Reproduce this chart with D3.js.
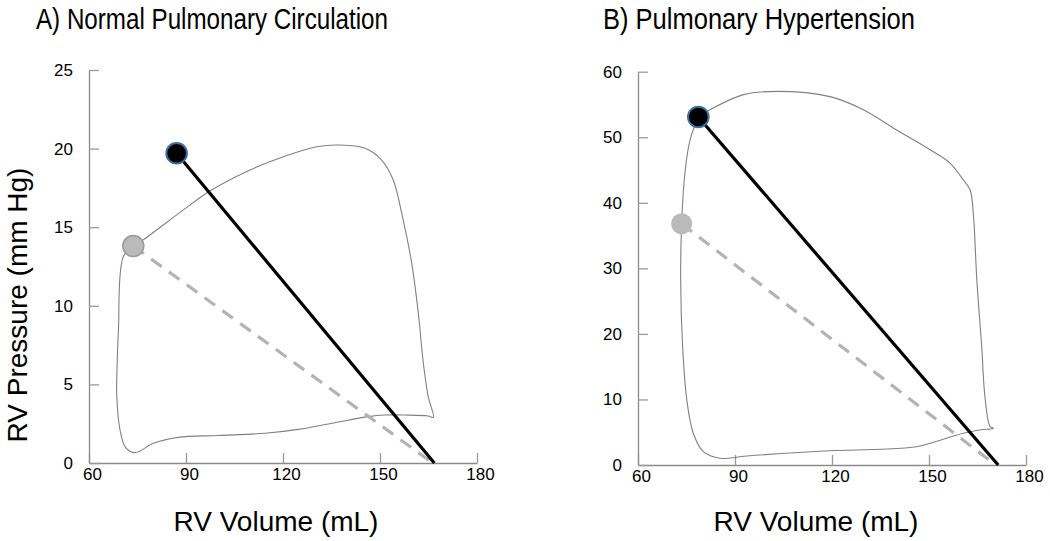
<!DOCTYPE html>
<html>
<head>
<meta charset="utf-8">
<script src="https://cdn.jsdelivr.net/npm/d3@7"></script>
<style>
  html, body { margin: 0; padding: 0; background: #fff; }
  svg { display: block; }
  text { font-family: "Liberation Sans", Arial, Helvetica, sans-serif; fill: #000; }
</style>
</head>
<body>
<svg id="chart" width="1050" height="541"></svg>
<script>
// ---------------- DATA ----------------
const titles = ["A) Normal Pulmonary Circulation", "B) Pulmonary Hypertension"];
const xLabel = "RV Volume (mL)";
const yLabel = "RV Pressure (mm Hg)";

const xTicks = [60, 90, 120, 150, 180];
const yTicksA = [0, 5, 10, 15, 20, 25];
const yTicksB = [0, 10, 20, 30, 40, 50, 60];

// Panel A pressure-volume loop (traced)
const loopAVolume = [73.7, 76.8, 89.2, 97.4, 109.8, 120.1, 130.4, 137.6, 145.4, 150.5, 154.1, 156.7, 159.8, 161.85, 163.4, 164.9, 166.5,
                     164.9, 157.7, 151.5, 146.4, 135.1, 124.7, 114.4, 100, 87.6, 79.9, 74.2, 71.3, 69.6, 68.6, 68.7, 69.1, 70.6, 73.7];
const loopAPressure = [13.8, 14.2, 16.1, 17.3, 18.64, 19.48, 20.12, 20.23, 20.02, 19.27, 18.0, 15.9, 12.72, 9.54, 6.36, 4.22, 2.9,
                       2.99, 3.05, 3.05, 2.95, 2.53, 2.14, 1.89, 1.75, 1.63, 1.25, 0.66, 1.0, 2.1, 4.22, 6.3, 8.46, 13.12, 13.8];

// Panel B pressure-volume loop (traced)
const loopBVolume = [78.65, 82.3, 92.6, 102.9, 119.4, 129.7, 140.0, 150.3, 156.5, 160.6, 162.7, 163.7, 164.8, 166.3, 167.3, 168.9,
                     169.9, 165.8, 160.6, 150.3, 146.2, 134.85, 119.4, 93.6, 85.4, 80.2, 77.1, 75.1, 73.8, 73.2, 73.5, 74.5, 76.1, 78.65];
const loopBPressure = [53.08, 54.2, 56.5, 57.0, 56.2, 54.2, 51.1, 48.1, 46.06, 43.5, 42.0, 38.4, 28.2, 18.06, 10.43, 5.85,
                       5.6, 5.34, 4.84, 3.31, 2.79, 2.4, 2.18, 1.37, 1.02, 2.03, 4.84, 9.92, 18.06, 28.2, 36.8, 44.5, 49.6, 53.08];

// Elastance lines: [volume, pressure] of the point and the x-intercept
const esA = { point: [87.1, 19.7], v0: [166.8, 0] };   // black, solid
const edA = { point: [73.7, 13.8], v0: [166.3, 0] };   // gray, dashed
const esB = { point: [78.65, 53.1], v0: [171.4, 0] };
const edB = { point: [73.5, 36.8], v0: [170.6, 0] };

// ---------------- LAYOUT ----------------
const svg = d3.select("#chart");

const panels = [
  { title: titles[0], titleX: 36, titleW: 352, xRange: [89, 477], yRange: [463, 70], yDomain: [0, 25], yTicks: yTicksA,
    vol: loopAVolume, pres: loopAPressure, es: esA, ed: edA, xTitleX: 276, showY: true, grayStroke: "#9a9a9a" },
  { title: titles[1], titleX: 603, titleW: 312, xRange: [638, 1026], yRange: [465, 71.7], yDomain: [0, 60], yTicks: yTicksB,
    vol: loopBVolume, pres: loopBPressure, es: esB, ed: edB, xTitleX: 816, showY: false, grayStroke: "none" }
];

panels.forEach(p => {
  const x = d3.scaleLinear().domain([60, 180]).range(p.xRange);
  const y = d3.scaleLinear().domain(p.yDomain).range(p.yRange);
  const g = svg.append("g");

  // Axes
  const xAxis = d3.axisBottom(x).tickValues(xTicks).tickSizeInner(-10).tickSizeOuter(0).tickPadding(5);
  const yAxis = d3.axisLeft(y).tickValues(p.yTicks).tickSizeInner(-10).tickSizeOuter(0).tickPadding(16);

  const gx = g.append("g").attr("transform", `translate(0,${p.yRange[0]})`).call(xAxis);
  const gy = g.append("g").attr("transform", `translate(${p.xRange[0]},0)`).call(yAxis);
  [gx, gy].forEach(a => {
    a.selectAll("path.domain").attr("stroke", "#8a8a8a").attr("stroke-width", 1.3);
    a.selectAll(".tick line").attr("stroke", "#9a9a9a").attr("stroke-width", 1.3);
    a.selectAll(".tick text").attr("font-size", 17).attr("fill", "#000")
      .attr("font-family", "'Liberation Sans', Arial, sans-serif");
  });
  gx.selectAll(".tick text").attr("dx", 3);

  // Loop
  const pts = p.vol.map((v, i) => [v, p.pres[i]]);
  const line = d3.line().x(d => x(d[0])).y(d => y(d[1])).curve(d3.curveCatmullRom.alpha(0.5));
  g.append("path").attr("d", line(pts)).attr("fill", "none")
    .attr("stroke", "#808080").attr("stroke-width", 1.1);

  // Elastance lines
  g.append("line")
    .attr("x1", x(p.ed.point[0])).attr("y1", y(p.ed.point[1]))
    .attr("x2", x(p.ed.v0[0])).attr("y2", y(p.ed.v0[1]))
    .attr("stroke", "#b3b3b3").attr("stroke-width", 3.2).attr("stroke-dasharray", "13,9");
  g.append("line")
    .attr("x1", x(p.es.point[0])).attr("y1", y(p.es.point[1]))
    .attr("x2", x(p.es.v0[0])).attr("y2", y(p.es.v0[1]))
    .attr("stroke", "#000").attr("stroke-width", 3.2);

  // Points
  g.append("circle").attr("cx", x(p.ed.point[0])).attr("cy", y(p.ed.point[1])).attr("r", 10.5)
    .attr("fill", "#bababa").attr("stroke", p.grayStroke).attr("stroke-width", 1.5);
  g.append("circle").attr("cx", x(p.es.point[0])).attr("cy", y(p.es.point[1])).attr("r", 10.3)
    .attr("fill", "#000").attr("stroke", "#3d6e9e").attr("stroke-width", 2);

  // Titles
  g.append("text").attr("x", p.titleX).attr("y", 29).attr("font-size", 30)
    .attr("textLength", p.titleW).attr("lengthAdjust", "spacingAndGlyphs").text(p.title);
  g.append("text").attr("x", p.xTitleX).attr("y", 531).attr("text-anchor", "middle")
    .attr("font-size", 28).text(xLabel);
  if (p.showY) {
    g.append("text").attr("transform", "translate(27,305) rotate(-90)").attr("text-anchor", "middle")
      .attr("font-size", 28).text(yLabel);
  }
});
</script>
</body>
</html>
